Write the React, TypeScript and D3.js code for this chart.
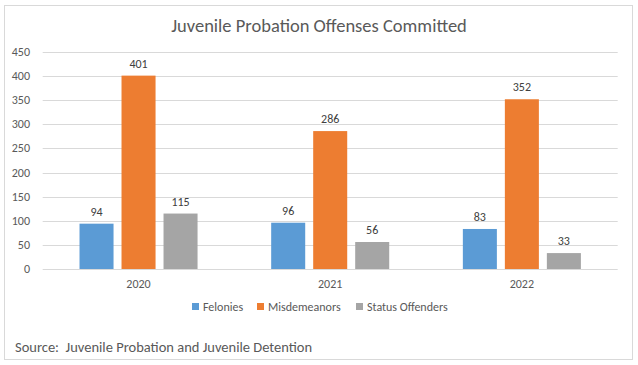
import React, { useEffect, useRef } from "react";
import * as d3 from "d3";

const years = ["2020", "2021", "2022"];
const seriesNames = ["Felonies", "Misdemeanors", "Status Offenders"];
const felonies = [94, 96, 83];
const misdemeanors = [401, 286, 352];
const statusOffenders = [115, 56, 33];
const yTicks = [0, 50, 100, 150, 200, 250, 300, 350, 400, 450];
const colors = ["#5b9bd5", "#ed7d31", "#a5a5a5"];

const FONT = "Carlito, Lato, 'Open Sans', sans-serif";

export default function App() {
  const ref = useRef<SVGSVGElement>(null);

  useEffect(() => {
    const svg = d3.select(ref.current);
    svg.selectAll("*").remove();
    const width = 638;
    const height = 365;
    const plot = { left: 42.7, right: 617.7, top: 52, bottom: 269 };
    const values = [felonies, misdemeanors, statusOffenders];

    svg
      .append("rect")
      .attr("x", 0)
      .attr("y", 0)
      .attr("width", width)
      .attr("height", height)
      .attr("fill", "#fff");
    svg
      .append("rect")
      .attr("x", 4.5)
      .attr("y", 5.5)
      .attr("width", 628)
      .attr("height", 354)
      .attr("fill", "#fff")
      .attr("stroke", "#d9d9d9");

    const x0 = d3.scaleBand().domain(years).range([plot.left, plot.right]);
    const x1 = d3
      .scaleBand()
      .domain(seriesNames)
      .range([0, 134])
      .paddingInner(0.19)
      .paddingOuter(0.19);
    const y = d3.scaleLinear().domain([0, 450]).range([plot.bottom, plot.top]);

    // gridlines
    svg
      .append("g")
      .selectAll("line")
      .data(yTicks)
      .join("line")
      .attr("x1", plot.left)
      .attr("x2", plot.right)
      .attr("y1", (d) => Math.round(y(d)) + 0.5)
      .attr("y2", (d) => Math.round(y(d)) + 0.5)
      .attr("stroke", "#d9d9d9");

    // y axis labels
    svg
      .append("g")
      .selectAll("text")
      .data(yTicks)
      .join("text")
      .attr("x", 30)
      .attr("y", (d) => y(d) + 4)
      .attr("text-anchor", "end")
      .attr("font-size", 12)
      .attr("fill", "#595959")
      .text((d) => d);

    // bars
    const groups = svg
      .append("g")
      .selectAll("g")
      .data(years)
      .join("g")
      .attr(
        "transform",
        (d) => `translate(${x0(d)! + x0.bandwidth() / 2 - 67},0)`
      );

    seriesNames.forEach((s, si) => {
      groups
        .append("rect")
        .attr("x", x1(s)!)
        .attr("width", x1.bandwidth())
        .attr("y", (_, i) => y(values[si][i]))
        .attr("height", (_, i) => y(0) - y(values[si][i]))
        .attr("fill", colors[si]);
      groups
        .append("text")
        .attr("x", x1(s)! + x1.bandwidth() / 2)
        .attr("y", (_, i) => y(values[si][i]) - 8)
        .attr("text-anchor", "middle")
        .attr("font-size", 12)
        .attr("fill", "#404040")
        .text((_, i) => values[si][i]);
    });

    // x axis labels
    svg
      .append("g")
      .selectAll("text")
      .data(years)
      .join("text")
      .attr("x", (d) => x0(d)! + x0.bandwidth() / 2)
      .attr("y", 288)
      .attr("text-anchor", "middle")
      .attr("font-size", 12)
      .attr("fill", "#595959")
      .text((d) => d);

    // title
    svg
      .append("text")
      .attr("x", 319)
      .attr("y", 32)
      .attr("text-anchor", "middle")
      .attr("font-size", 18.5)
      .attr("font-weight", 300)
      .attr("fill", "#595959")
      .text("Juvenile Probation Offenses Committed");

    // legend
    const legendX = [192, 257, 356];
    const legend = svg
      .append("g")
      .selectAll("g")
      .data(seriesNames)
      .join("g")
      .attr("transform", (_, i) => `translate(${legendX[i]},307)`);
    legend
      .append("rect")
      .attr("x", 0)
      .attr("y", -4)
      .attr("width", 7)
      .attr("height", 7)
      .attr("fill", (_, i) => colors[i]);
    legend
      .append("text")
      .attr("x", 11)
      .attr("y", 4)
      .attr("font-size", 12)
      .attr("fill", "#595959")
      .text((d) => d);

    // source
    svg
      .append("text")
      .attr("x", 15)
      .attr("y", 352)
      .attr("font-size", 14.5)
      .attr("fill", "#595959")
      .style("white-space", "pre")
      .text("Source:  Juvenile Probation and Juvenile Detention");
  }, []);

  return (
    <svg
      ref={ref}
      width={638}
      height={365}
      style={{ position: "absolute", left: 0, top: 0, fontFamily: FONT }}
    />
  );
}
